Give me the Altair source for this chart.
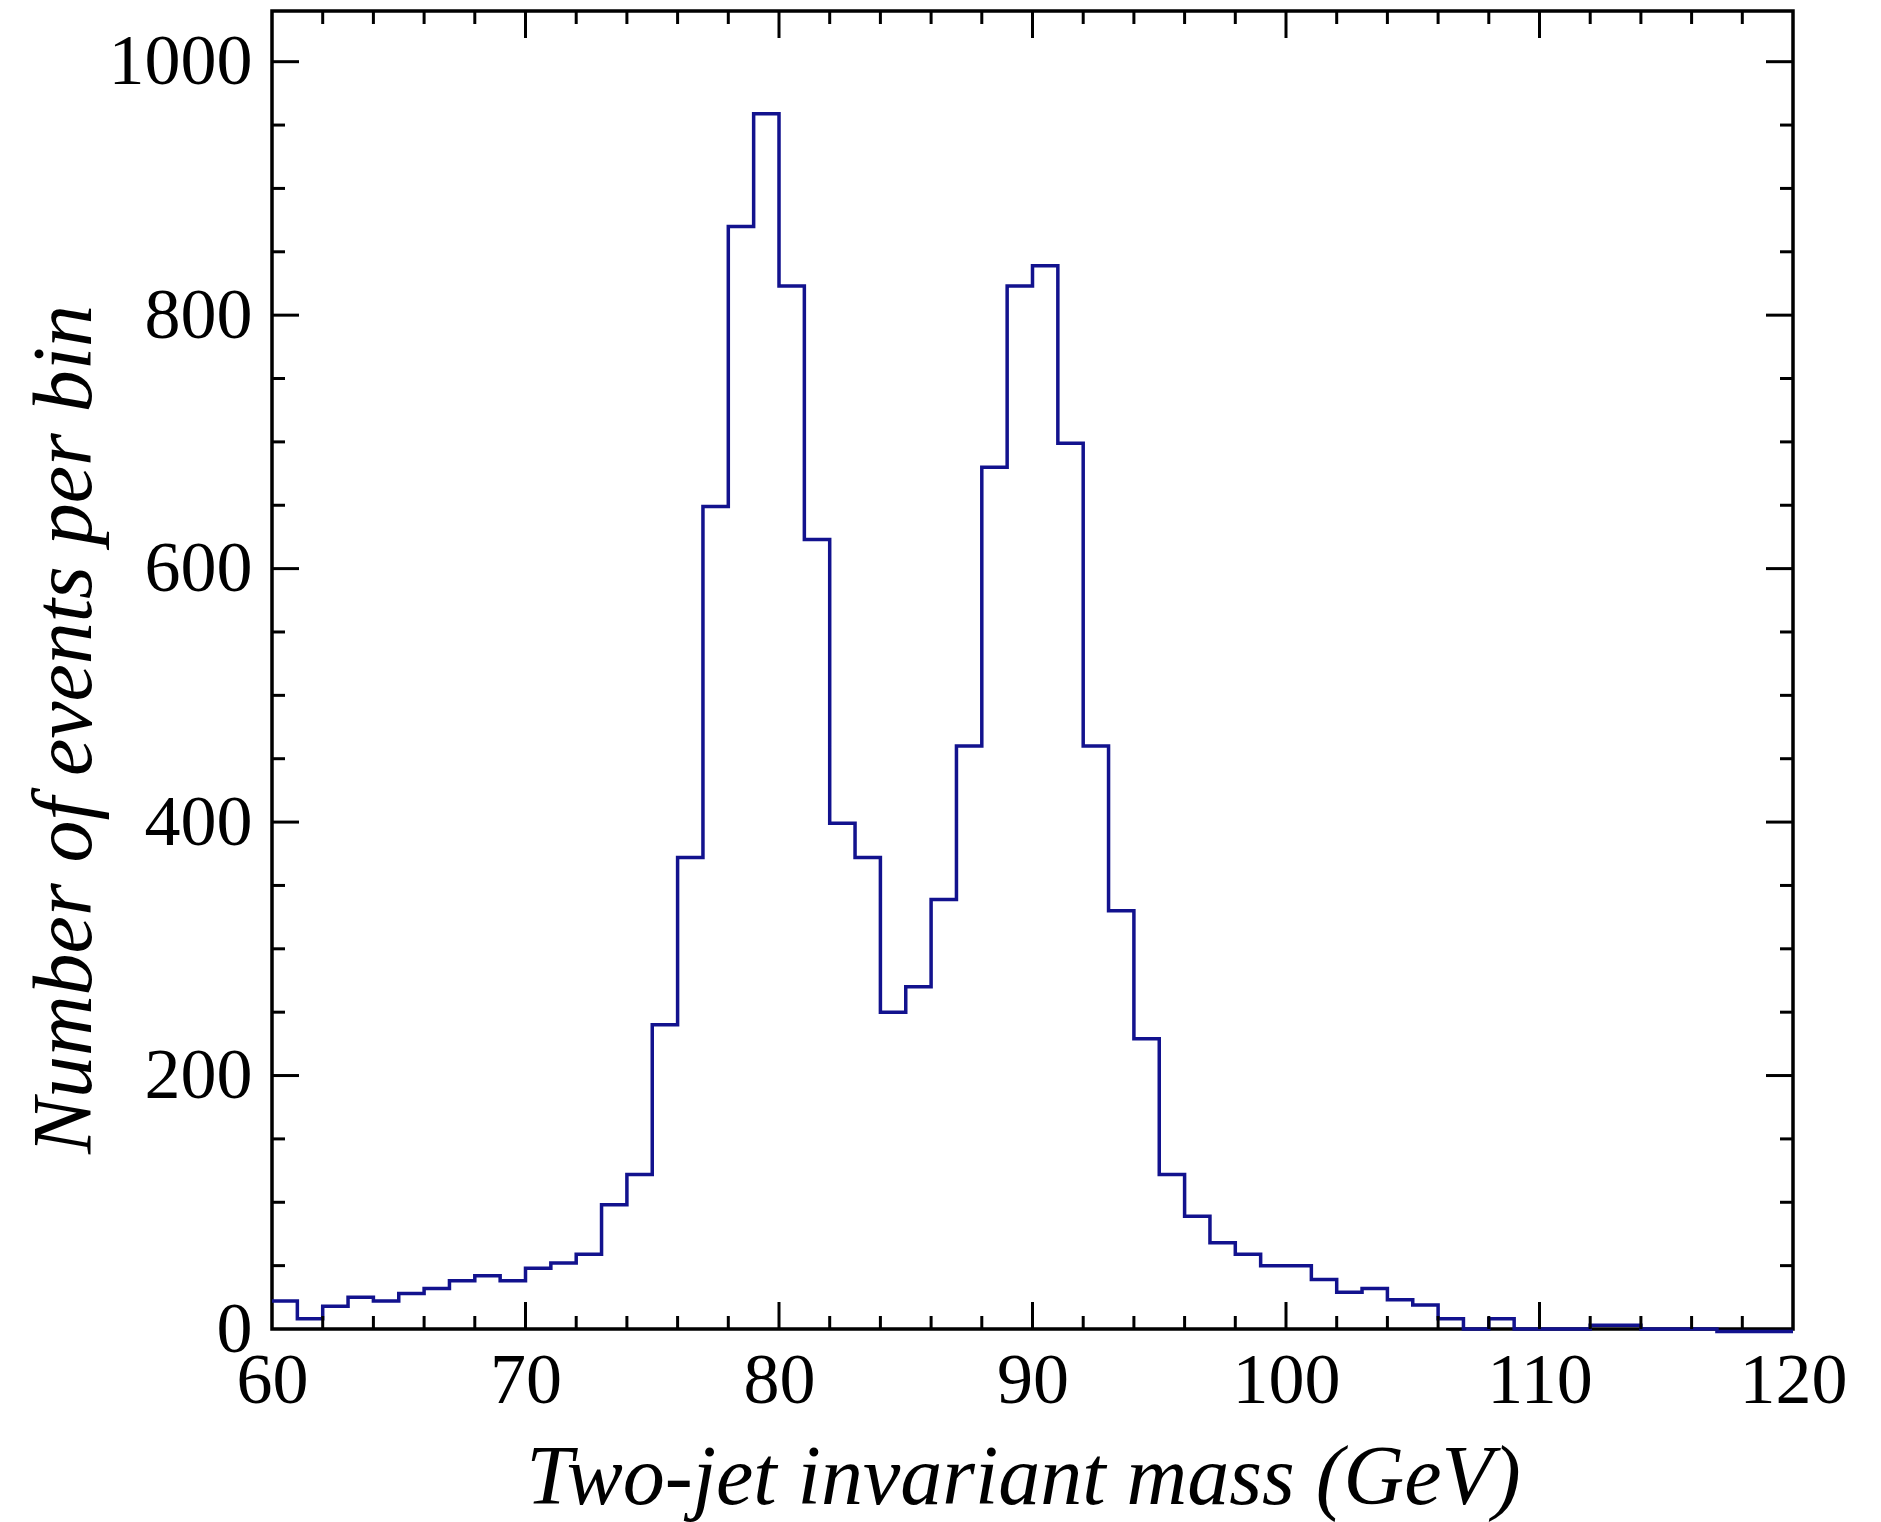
import altair as alt
import pandas as pd

# ---- data (bin left edges, 1 GeV bins) ----
bin_edges = list(range(60, 121))
counts = [22, 8, 18, 25, 22, 28, 32, 38, 42, 38,        # 60-69
          48, 52, 59, 98, 122, 240, 372, 649, 870, 959,  # 70-79
          823, 623, 399, 372, 250, 270, 339, 460, 680, 823,  # 80-89
          839, 699, 460, 330, 229, 122, 89, 68, 59, 50,  # 90-99
          50, 39, 29, 32, 23, 19, 8, 0, 8, 0,            # 100-109
          0, 0, 3, 3, 0, 0, 0, -2, -2, -2]               # 110-119

x_label_values = [60, 70, 80, 90, 100, 110, 120]
y_label_values = [0, 200, 400, 600, 800, 1000]
x_major_ticks = [70, 80, 90, 100, 110]
x_minor_ticks = [v for v in range(62, 120, 2) if v % 10 != 0]
y_major_ticks = [200, 400, 600, 800, 1000]
y_minor_ticks = [v for v in range(50, 1050, 50) if v % 200 != 0]

W, H = 1521, 1318
MAJ, MIN = 27, 13
FONT = "Liberation Serif"
LINE_COLOR = "#12128e"

hist = pd.DataFrame({"mass": bin_edges, "count": counts + [counts[-1]]})
xs = alt.Scale(domain=[60, 120], nice=False, zero=False)
ys = alt.Scale(domain=[0, 1040], nice=False, zero=False)

main = alt.Chart(hist).mark_line(
    interpolate="step-after", color=LINE_COLOR, strokeWidth=3.5
).encode(
    x=alt.X("mass:Q", scale=xs, axis=alt.Axis(
        orient="bottom",
        values=x_label_values, ticks=False, tickSize=0, domain=False, grid=False,
        labelFont=FONT, labelFontSize=72, labelColor="black", labelPadding=16,
        labelFlush=False, labelOverlap=False, labelBound=False, format="d",
        title="Two-jet invariant mass (GeV)", titleFont=FONT, titleFontSize=84,
        titleFontStyle="italic", titleFontWeight="normal", titleColor="black",
        titleBaseline="alphabetic", titleX=751, titleY=174, titleAlign="center")),
    y=alt.Y("count:Q", scale=ys, axis=alt.Axis(
        orient="left",
        values=y_label_values, ticks=False, tickSize=0, domain=False, grid=False,
        labelFont=FONT, labelFontSize=72, labelColor="black", labelPadding=20,
        labelOverlap=False, labelBound=False, format="d",
        title="Number of events per bin", titleFont=FONT, titleFontSize=84,
        titleFontStyle="italic", titleFontWeight="normal", titleColor="black",
        titleBaseline="alphabetic", titleX=-182, titleY=718, titleAngle=270,
        titleAlign="center")),
)


def xticks(vals, length, top):
    df = pd.DataFrame({"v": vals})
    y0 = 0 if top else H
    y1 = length if top else H - length
    return alt.Chart(df).mark_rule(color="black", strokeWidth=3).encode(
        x=alt.X("v:Q", scale=xs, axis=None), y=alt.value(y0), y2=alt.value(y1))


def yticks(vals, length, right):
    df = pd.DataFrame({"v": vals})
    x0 = W if right else 0
    x1 = W - length if right else length
    return alt.Chart(df).mark_rule(color="black", strokeWidth=3).encode(
        y=alt.Y("v:Q", scale=ys, axis=None), x=alt.value(x0), x2=alt.value(x1))


layers = [
    main,
    xticks(x_major_ticks, MAJ, False), xticks(x_minor_ticks, MIN, False),
    xticks(x_major_ticks, MAJ, True), xticks(x_minor_ticks, MIN, True),
    yticks(y_major_ticks, MAJ, False), yticks(y_minor_ticks, MIN, False),
    yticks(y_major_ticks, MAJ, True), yticks(y_minor_ticks, MIN, True),
]

chart = alt.layer(*layers).resolve_axis(
    x="independent", y="independent"
).properties(
    width=W, height=H,
    autosize=alt.AutoSizeParams(type="none"),
    padding={"left": 264, "top": 3, "right": 60, "bottom": 210},
).configure_view(stroke="black", strokeWidth=3.5)

chart.save("out.html", embed_options={"renderer": "svg", "actions": False})
